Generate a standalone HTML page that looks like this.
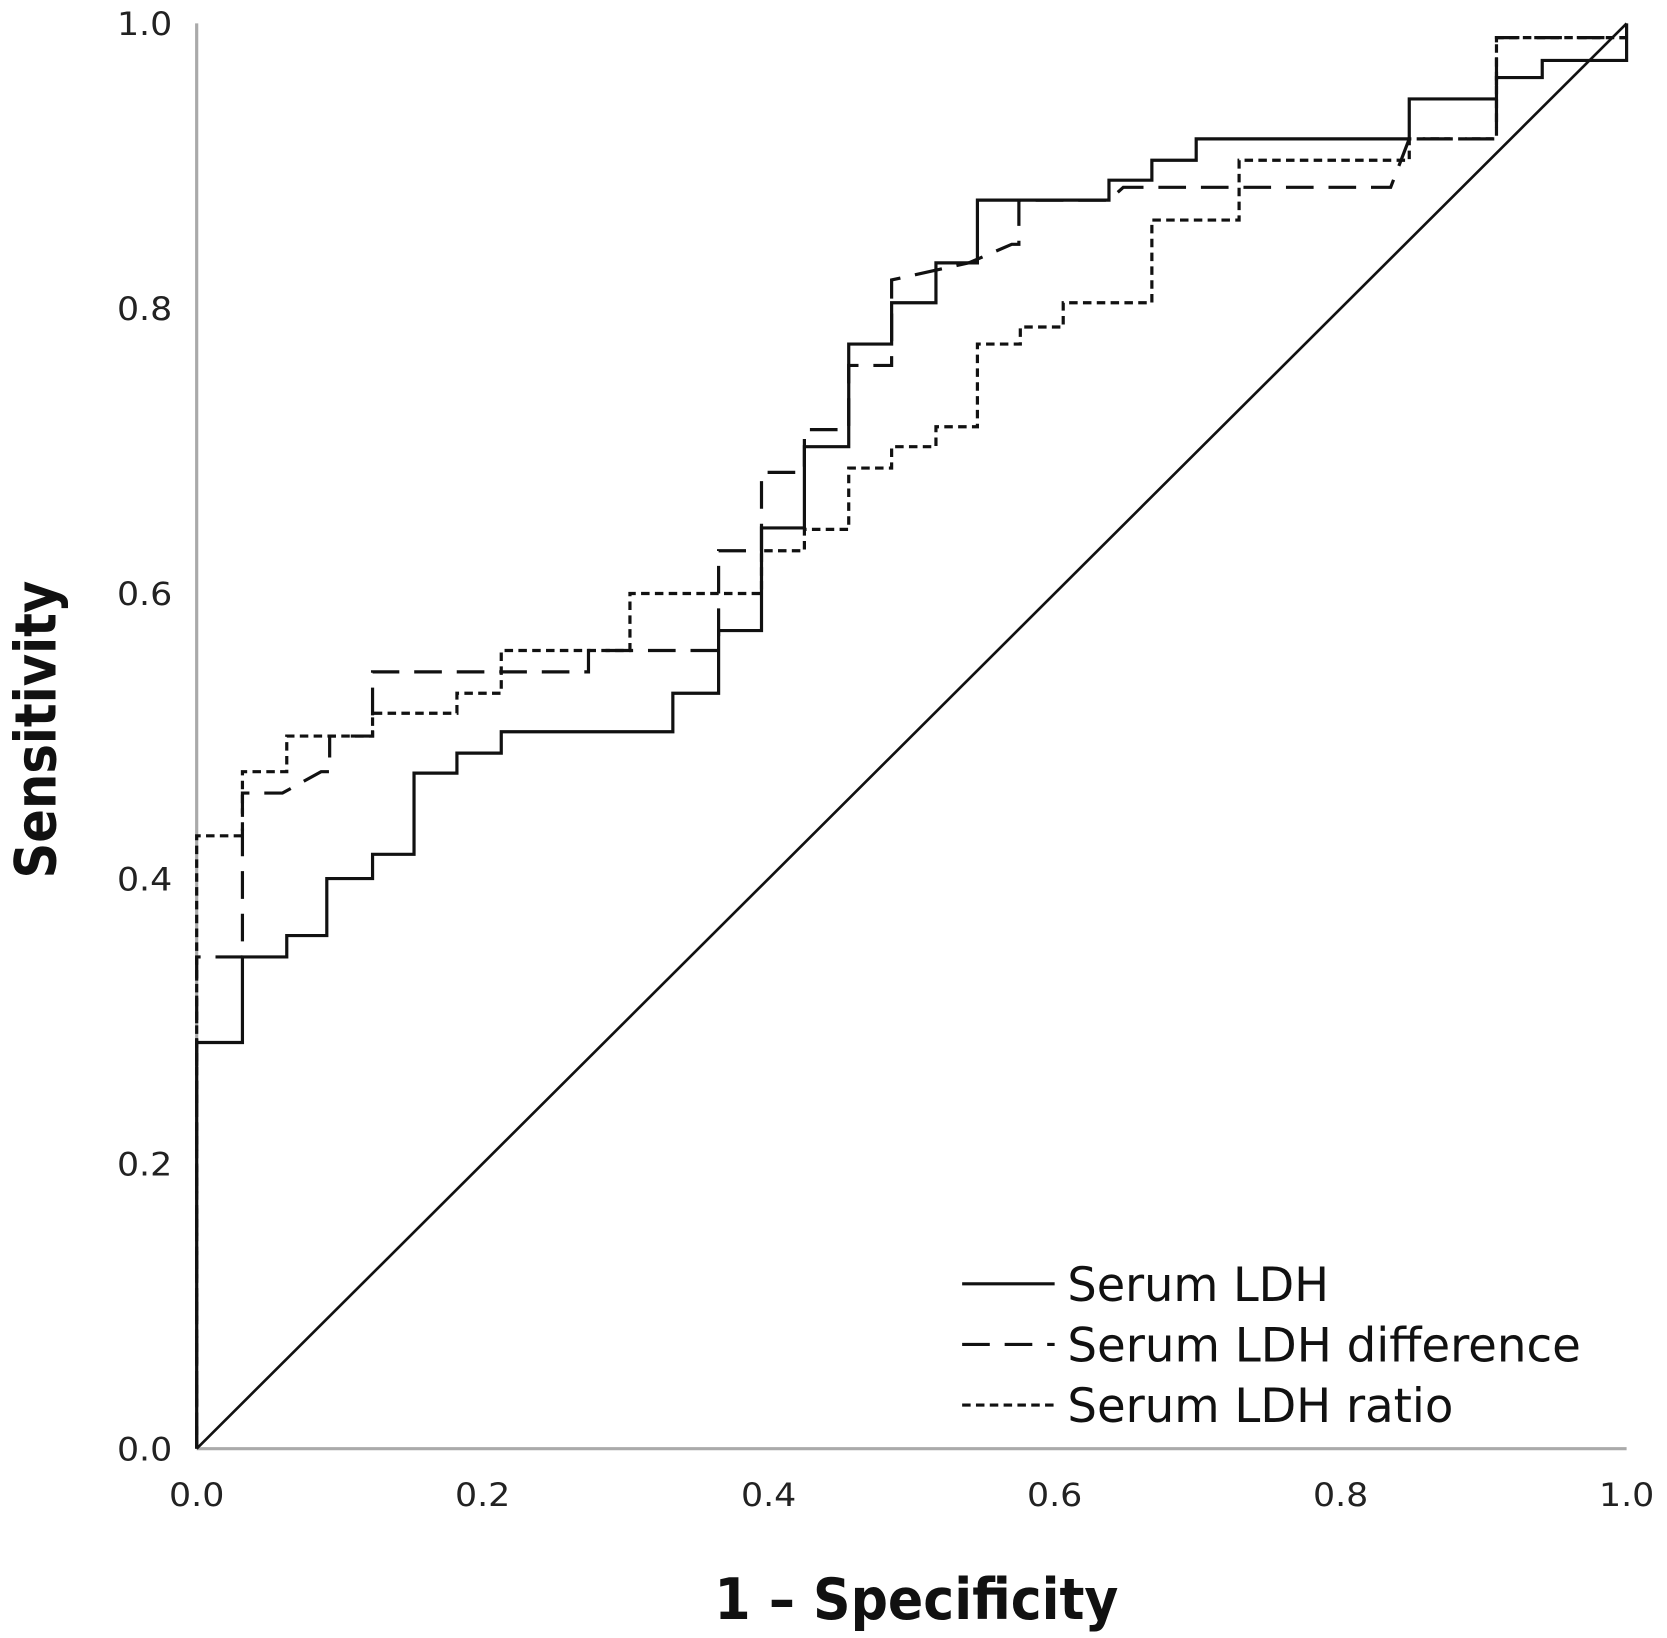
<!DOCTYPE html>
<html><head><meta charset="utf-8"><style>
html,body{margin:0;padding:0;background:#fff;}
svg{display:block;font-family:"DejaVu Sans Condensed","Liberation Sans",sans-serif;}
</style></head><body>
<svg id="chart" width="1667" height="1638" viewBox="0 0 1568 1540" preserveAspectRatio="none" xmlns="http://www.w3.org/2000/svg"></svg>
<script>
const xTicks = [0, 0.2, 0.4, 0.6, 0.8, 1.0];
const yTicks = [0, 0.2, 0.4, 0.6, 0.8, 1.0];
const ldhX = [0,0,0.032,0.032,0.063,0.063,0.091,0.091,0.123,0.123,0.152,0.152,0.182,0.182,0.213,0.213,0.333,0.333,0.365,0.365,0.395,0.395,0.425,0.425,0.456,0.456,0.486,0.486,0.517,0.517,0.546,0.546,0.638,0.638,0.668,0.668,0.699,0.699,0.848,0.848,0.909,0.909,0.941,0.941,1.0,1.0];
const ldhY = [0,0.285,0.285,0.345,0.345,0.36,0.36,0.40,0.40,0.417,0.417,0.474,0.474,0.488,0.488,0.503,0.503,0.53,0.53,0.574,0.574,0.646,0.646,0.703,0.703,0.775,0.775,0.804,0.804,0.832,0.832,0.876,0.876,0.89,0.89,0.904,0.904,0.919,0.919,0.947,0.947,0.962,0.962,0.974,0.974,1.0];
const diffX = [0,0,0.032,0.032,0.06,0.087,0.093,0.093,0.123,0.123,0.274,0.274,0.365,0.365,0.395,0.395,0.425,0.425,0.456,0.456,0.486,0.486,0.54,0.57,0.575,0.575,0.638,0.648,0.835,0.848,0.909,0.909,1.0];
const diffY = [0,0.345,0.345,0.46,0.46,0.475,0.475,0.50,0.50,0.545,0.545,0.56,0.56,0.63,0.63,0.685,0.685,0.715,0.715,0.76,0.76,0.82,0.832,0.845,0.845,0.876,0.876,0.885,0.885,0.919,0.919,0.99,0.99];
const ratioX = [0,0,0.032,0.032,0.063,0.063,0.123,0.123,0.182,0.182,0.213,0.213,0.303,0.303,0.395,0.395,0.425,0.425,0.456,0.456,0.486,0.486,0.517,0.517,0.546,0.546,0.576,0.576,0.606,0.606,0.668,0.668,0.729,0.729,0.848,0.848,0.909,0.909,1.0];
const ratioY = [0,0.43,0.43,0.475,0.475,0.50,0.50,0.516,0.516,0.53,0.53,0.56,0.56,0.60,0.60,0.63,0.63,0.645,0.645,0.688,0.688,0.703,0.703,0.717,0.717,0.775,0.775,0.787,0.787,0.804,0.804,0.862,0.862,0.904,0.904,0.919,0.919,0.99,0.99];

const svg = document.getElementById('chart');
const NS = 'http://www.w3.org/2000/svg';
const X0 = 185, X1 = 1530, Y0 = 1362, Y1 = 22;
function sx(v){ return X0 + v*(X1-X0); }
function sy(v){ return Y0 - v*(Y0-Y1); }
function mk(tag, attrs){ const e = document.createElementNS(NS, tag); for (const k in attrs) e.setAttribute(k, attrs[k]); svg.appendChild(e); return e; }

let ya = mk('line', {x1:X0, y1:Y1, x2:X0, y2:Y0, stroke:'#aaa', 'stroke-width':3});


let xa = mk('line', {x1:X0, y1:Y0, x2:X1, y2:Y0, stroke:'#aaa', 'stroke-width':3});



xTicks.forEach(v => {
  const t = mk('text', {x:sx(v), y:1416, 'font-size':30, 'text-anchor':'middle', fill:'#222', textLength:52, lengthAdjust:'spacingAndGlyphs'});
  t.textContent = v.toFixed(1);
  
  
});
yTicks.forEach(v => {
  const t = mk('text', {x:162, y:sy(v)+11, 'font-size':30, 'text-anchor':'end', fill:'#222', textLength:52, lengthAdjust:'spacingAndGlyphs'});
  t.textContent = v.toFixed(1);
  
  
});

let dg = mk('line', {x1:sx(0), y1:sy(0), x2:sx(1), y2:sy(1), stroke:'#111', 'stroke-width':2.5});



function series(xs, ys, dash, name){
  const pts = xs.map((x,i) => sx(x)+','+sy(ys[i])).join(' ');
  const p = mk('polyline', {points:pts, fill:'none', stroke:'#111', 'stroke-width':3, 'stroke-dasharray':dash});
  
  
}
series(ldhX, ldhY, 'none', 'serum-ldh-curve');
series(diffX, diffY, '26 14', 'serum-ldh-difference-curve');
series(ratioX, ratioY, '8 5', 'serum-ldh-ratio-curve');

const legend = [['Serum LDH','none',246],['Serum LDH difference','26 14',483],['Serum LDH ratio','8 5',363]];
legend.forEach((l,i) => {
  const y = 1207 + i*57;
  const ln = mk('line', {x1:905, y1:y, x2:992, y2:y, stroke:'#111', 'stroke-width':3, 'stroke-dasharray':l[1]});
  
  
  const t = mk('text', {x:1004, y:y+16, 'font-size':44, fill:'#111', textLength:l[2], lengthAdjust:'spacingAndGlyphs'});
  t.textContent = l[0];
  
  
});

let xt = mk('text', {x:862, y:1522, 'font-size':54, 'font-weight':'bold', 'text-anchor':'middle', fill:'#111', textLength:380, lengthAdjust:'spacingAndGlyphs'});
xt.textContent = '1 – Specificity';


let yt = mk('text', {x:0, y:0, 'font-size':54, 'font-weight':'bold', 'text-anchor':'middle', fill:'#111', textLength:280, lengthAdjust:'spacingAndGlyphs', transform:'translate(52,686) rotate(-90)'});
yt.textContent = 'Sensitivity';


</script>
</body></html>
